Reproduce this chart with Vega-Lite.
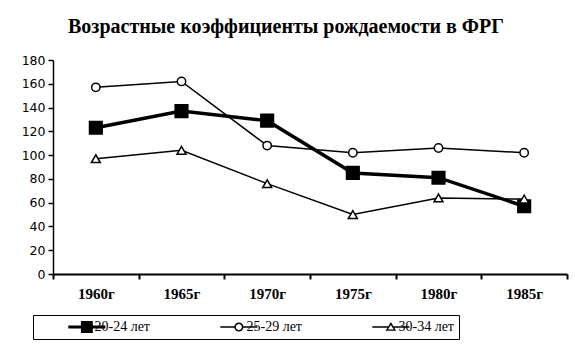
{
 "$schema": "https://vega.github.io/schema/vega-lite/v6.json",
 "width": 514,
 "height": 214,
 "autosize": "none",
 "padding": {"left": 53, "top": 60, "right": 8, "bottom": 77},
 "background": "white",
 "title": {"text": "Возрастные коэффициенты рождаемости в ФРГ", "font": "Liberation Serif", "fontSize": 20, "fontWeight": "bold", "color": "black", "anchor": "middle", "dx": -24, "offset": 17},
 "data": {"values": [
  {"year": "1960г", "series": "20-24 лет", "value": 123},
  {"year": "1965г", "series": "20-24 лет", "value": 137},
  {"year": "1970г", "series": "20-24 лет", "value": 129},
  {"year": "1975г", "series": "20-24 лет", "value": 85},
  {"year": "1980г", "series": "20-24 лет", "value": 81},
  {"year": "1985г", "series": "20-24 лет", "value": 57},
  {"year": "1960г", "series": "25-29 лет", "value": 157},
  {"year": "1965г", "series": "25-29 лет", "value": 162},
  {"year": "1970г", "series": "25-29 лет", "value": 108},
  {"year": "1975г", "series": "25-29 лет", "value": 102},
  {"year": "1980г", "series": "25-29 лет", "value": 106},
  {"year": "1985г", "series": "25-29 лет", "value": 102},
  {"year": "1960г", "series": "30-34 лет", "value": 97},
  {"year": "1965г", "series": "30-34 лет", "value": 104},
  {"year": "1970г", "series": "30-34 лет", "value": 76},
  {"year": "1975г", "series": "30-34 лет", "value": 50},
  {"year": "1980г", "series": "30-34 лет", "value": 64},
  {"year": "1985г", "series": "30-34 лет", "value": 63}
 ]},
 "encoding": {
  "x": {"field": "year", "type": "ordinal", "sort": null, "bandPosition": 0.5,
   "scale": {"type": "band", "paddingInner": 0, "paddingOuter": 0},
   "axis": {"title": null, "grid": false, "tickBand": "extent", "tickSize": 5, "tickWidth": 2, "tickColor": "black", "domainColor": "black", "domainWidth": 2, "labelAngle": 0, "labelFont": "Liberation Serif", "labelFontWeight": "bold", "labelFontSize": 15, "labelColor": "black", "labelPadding": 7}},
  "y": {"field": "value", "type": "quantitative", "scale": {"domain": [0, 180], "nice": false},
   "axis": {"title": null, "grid": false, "values": [0, 20, 40, 60, 80, 100, 120, 140, 160, 180], "tickSize": 5, "tickWidth": 1.5, "tickColor": "black", "domainColor": "black", "domainWidth": 1.5, "labelFont": "DejaVu Sans", "labelFontSize": 12.5, "labelColor": "black", "labelPadding": 3}}
 },
 "layer": [
  {"mark": {"type": "line", "color": "black"},
   "encoding": {"detail": {"field": "series"},
    "strokeWidth": {"condition": {"test": "datum.series == '20-24 лет'", "value": 3.5}, "value": 1.5}}},
  {"mark": {"type": "point", "stroke": "black", "strokeWidth": 1.5, "opacity": 1},
   "encoding": {
    "shape": {"condition": [{"test": "datum.series == '20-24 лет'", "value": "square"}, {"test": "datum.series == '25-29 лет'", "value": "circle"}], "value": "triangle-up"},
    "fill": {"condition": {"test": "datum.series == '20-24 лет'", "value": "black"}, "value": "white"},
    "size": {"condition": [{"test": "datum.series == '20-24 лет'", "value": 160}, {"test": "datum.series == '25-29 лет'", "value": 70}], "value": 80}
   }},
  {"transform": [{"filter": "false"}],
   "mark": {"type": "point", "filled": true, "color": "black", "opacity": 1},
   "encoding": {
    "shape": {"field": "series", "type": "nominal", "scale": {"domain": ["20-24 лет", "25-29 лет", "30-34 лет"], "range": [
      "M-1.17,-0.22H0.63V-0.85H2.33V-0.22H4.13V0.22H2.33V0.85H0.63V0.22H-1.17Z",
      "M-1.17,-0.11H0.93V0.11H-1.17ZM2.03,-0.11H4.13V0.11H2.03ZM2.13,0A0.65,0.65 0 1,1 0.83,0A0.65,0.65 0 1,1 2.13,0ZM1.91,0A0.43,0.43 0 1,0 1.05,0A0.43,0.43 0 1,0 1.91,0Z",
      "M-1.17,-0.11H1.08V0.11H-1.17ZM1.88,-0.11H4.13V0.11H1.88ZM1.48,-0.7L2.23,0.55H0.73ZM1.48,-0.3L1.06,0.37H1.9Z"]},
     "legend": {"title": null, "orient": "none", "legendX": -20, "legendY": 255, "direction": "horizontal", "labelFont": "Liberation Serif", "labelFontSize": 14, "labelColor": "black", "labelOffset": 11, "symbolOffset": 31.5, "strokeColor": "black", "padding": 5, "columnPadding": 40, "symbolSize": 196, "symbolOpacity": 1, "symbolFillColor": "black", "symbolStrokeWidth": 0}}
   }}
 ],
 "config": {"view": {"stroke": null}}
}
